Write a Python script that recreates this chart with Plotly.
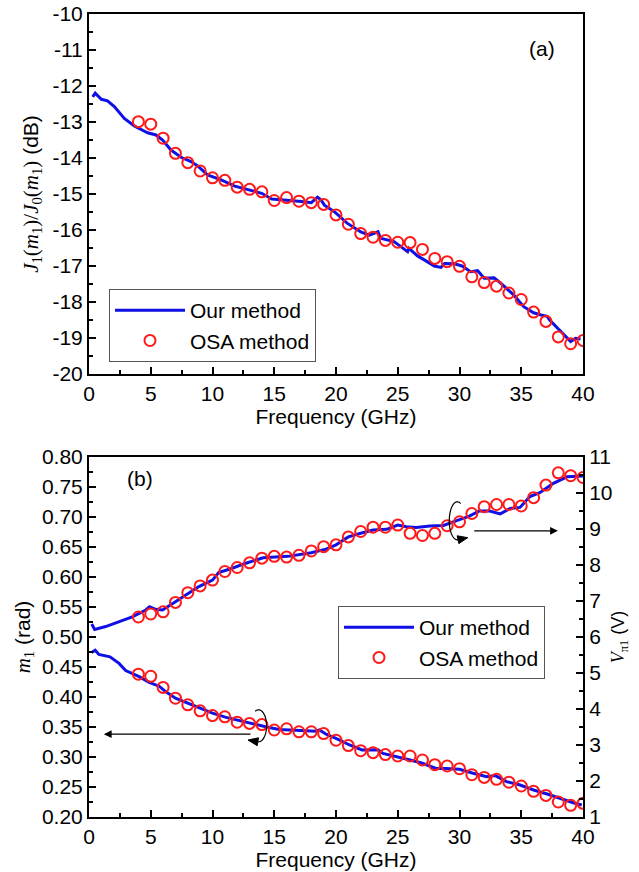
import numpy as np
import plotly.graph_objects as go

# ---------------- data ----------------
# (a) J1(m1)/J0(m1) in dB
a_line_f = [0.3, 0.5, 1.0, 1.5, 2.05, 2.86, 3.67, 4.75, 5.42, 5.96, 6.64, 7.45, 8.26, 8.8, 9.6, 10.7,
            11.8, 12.9, 13.98, 14.8, 16.1, 17.2, 18.0, 18.5, 18.8, 19.06, 19.87, 20.9, 22.0, 22.7, 23.4,
            23.6, 24.7, 25.5, 25.8, 25.9, 26.6, 27.15, 27.96, 28.5, 28.8, 29.6, 30.2, 30.9, 31.47,
            32.0, 32.8, 33.36, 34.4, 35.2, 36.0, 36.6, 37.1, 37.3, 37.95, 38.6, 39.0, 39.4, 39.8]
a_line_v = [-12.3, -12.2, -12.37, -12.41, -12.57, -12.90, -13.11, -13.30, -13.36, -13.5, -13.78, -13.98,
            -14.10, -14.22, -14.47, -14.61, -14.78, -14.89, -14.98, -15.14, -15.17, -15.21, -15.24,
            -15.09, -15.17, -15.31, -15.49, -15.81, -16.05, -16.14, -16.05, -16.23, -16.32, -16.51,
            -16.6, -16.51, -16.72, -16.83, -17.0, -17.04, -16.93, -16.94, -17.0, -17.16, -17.13,
            -17.34, -17.33, -17.48, -17.81, -18.13, -18.30, -18.36, -18.4, -18.5, -18.73, -18.96,
            -19.1, -19.01, -19.03]
a_osa_f = list(range(4, 41))
a_osa_v = [-12.99, -13.06, -13.45, -13.87, -14.13, -14.36, -14.55, -14.62, -14.81, -14.87, -14.94,
           -15.18, -15.10, -15.20, -15.24, -15.29, -15.58, -15.84, -16.10, -16.20, -16.29, -16.34,
           -16.35, -16.54, -16.79, -16.88, -17.01, -17.30, -17.46, -17.56, -17.75, -17.93, -18.28,
           -18.54, -18.97, -19.16, -19.07]

# (b) m1 (rad), left axis
m1_line_f = [0.22, 0.5, 0.8, 1.35, 1.7, 2.43, 2.97, 4.06, 4.87, 5.68, 6.2, 7.0, 8.1, 8.9, 10.0, 11.1,
             12.2, 13.2, 14.3, 15.4, 17.0, 18.4, 18.66, 19.2, 20.0, 21.1, 22.1, 23.4, 23.8, 25.0,
             26.0, 27.0, 28.1, 28.9, 30.0, 31.1, 32.2, 32.9, 33.8, 34.9, 36.0, 37.1, 38.1, 39.2, 39.9]
m1_line_v = [0.474, 0.478, 0.471, 0.468, 0.467, 0.456, 0.444, 0.434, 0.4245, 0.418, 0.409, 0.398,
             0.389, 0.383, 0.373, 0.366, 0.3605, 0.356, 0.3505, 0.346, 0.345, 0.343, 0.345, 0.338,
             0.331, 0.32, 0.3117, 0.312, 0.306, 0.3005, 0.295, 0.2895, 0.281, 0.281, 0.2795, 0.273,
             0.2672, 0.269, 0.259, 0.2533, 0.245, 0.2383, 0.2312, 0.2238, 0.22]
m1_osa_f = list(range(4, 41))
m1_osa_v = [0.438, 0.4345, 0.416, 0.398, 0.387, 0.377, 0.369, 0.367, 0.358, 0.356, 0.354, 0.345,
            0.347, 0.342, 0.342, 0.339, 0.328, 0.319, 0.3105, 0.3072, 0.304, 0.3017, 0.3017, 0.295,
            0.2872, 0.285, 0.2805, 0.2705, 0.266, 0.2628, 0.258, 0.2517, 0.2428, 0.236, 0.225,
            0.2195, 0.2228]

# (b) V_pi1 (V), right axis
vp_line_f = [0.22, 0.46, 1.35, 2.43, 3.5, 4.6, 4.9, 5.4, 5.95, 7.0, 8.1, 8.9, 10.0, 10.5, 11.6, 12.7,
             14.1, 16.1, 18.0, 18.66, 19.2, 20.0, 21.0, 22.0, 23.0, 24.1, 25.0, 25.7, 26.5, 27.6,
             28.7, 30.0, 30.8, 31.6, 32.45, 33.3, 34.1, 34.9, 35.7, 36.5, 37.6, 38.7, 40.0]
vp_line_v = [6.36, 6.21, 6.29, 6.43, 6.56, 6.75, 6.84, 6.77, 6.75, 6.98, 7.21, 7.40, 7.58, 7.79, 7.91,
             8.05, 8.20, 8.24, 8.34, 8.40, 8.44, 8.56, 8.78, 8.88, 8.97, 8.99, 9.11, 9.06, 9.04, 9.08,
             9.10, 9.26, 9.36, 9.50, 9.50, 9.42, 9.57, 9.60, 9.90, 10.01, 10.27, 10.45, 10.47]
vp_osa_f = list(range(4, 41))
vp_osa_v = [6.556, 6.64, 6.70, 6.96, 7.23, 7.42, 7.58, 7.82, 7.93, 8.06, 8.19, 8.24, 8.22, 8.27, 8.39,
            8.51, 8.56, 8.78, 8.93, 9.05, 9.05, 9.11, 8.88, 8.82, 8.88, 9.09, 9.20, 9.43, 9.62, 9.68,
            9.68, 9.64, 9.87, 10.22, 10.56, 10.48, 10.43]

x_ticks = [0, 5, 10, 15, 20, 25, 30, 35, 40]
a_y_ticks = [-20, -19, -18, -17, -16, -15, -14, -13, -12, -11, -10]
a_y_ticktext = ["-20", "-19", "-18", "-17", "-16", "-15", "-14", "-13", "-12", "-11", "-10"]

# ---------------- styling ----------------
FONT = "Arial, 'Liberation Sans', sans-serif"
SERIF = "Times New Roman, Liberation Serif, serif"
BLUE = "#1010e6"
RED = "#ff1a1a"
FS = 21

W, H = 639, 872
PL, PR, PT, PB = 89, 583, 14, 817   # plot area in window pixels
ML, MR, MT, MB = PL, W - PR, PT, H - PB
PLOT_H = H - MT - MB

fig = go.Figure()

line_style = dict(color=BLUE, width=3)
mk_style = dict(symbol="circle-open", size=11, color=RED, line=dict(color=RED, width=2))

fig.add_trace(go.Scatter(x=a_line_f, y=a_line_v, mode="lines", line=line_style, name="Our method",
                         xaxis="x", yaxis="y", legend="legend"))
fig.add_trace(go.Scatter(x=a_osa_f, y=a_osa_v, mode="markers", marker=mk_style, name="OSA method",
                         xaxis="x", yaxis="y", legend="legend"))

fig.add_trace(go.Scatter(x=m1_line_f, y=m1_line_v, mode="lines", line=line_style, name="Our method",
                         xaxis="x2", yaxis="y2", legend="legend2"))
fig.add_trace(go.Scatter(x=m1_osa_f, y=m1_osa_v, mode="markers", marker=mk_style, name="OSA method",
                         xaxis="x2", yaxis="y2", legend="legend2"))
fig.add_trace(go.Scatter(x=vp_line_f, y=vp_line_v, mode="lines", line=line_style, name="Our method",
                         xaxis="x2", yaxis="y3", showlegend=False))
fig.add_trace(go.Scatter(x=vp_osa_f, y=vp_osa_v, mode="markers", marker=mk_style, name="OSA method",
                         xaxis="x2", yaxis="y3", showlegend=False))

axis_common = dict(showline=True, linecolor="black", linewidth=2, ticks="inside", ticklen=7,
                   tickwidth=1.5, tickcolor="black", showgrid=False, zeroline=False, automargin=False,
                   tickfont=dict(family=FONT, size=FS, color="black"))

xcommon = dict(axis_common, range=[0, 40], tickvals=x_ticks, mirror=True,
               minor=dict(ticks="inside", ticklen=4, tickwidth=1.5, tickcolor="black", dtick=2.5,
                          tick0=0, showgrid=False),
               title=dict(text="Frequency (GHz)", font=dict(family=FONT, size=FS, color="black"),
                          standoff=2))


def py(y):  # window pixel y -> paper fraction
    return (PB - y) / PLOT_H


def px(x):  # window pixel x -> paper fraction
    return (x - PL) / (PR - PL)


top_dom = [py(374), 1.0]
bot_dom = [0.0, py(457)]

ytitle_a = ("<span style=\"font-family:" + SERIF + "\"><i>J</i><sub>1</sub>(<i>m</i><sub>1</sub>)/"
            "<i>J</i><sub>0</sub>(<i>m</i><sub>1</sub>)</span> (dB)")
ytitle_b = "<span style=\"font-family:" + SERIF + "\"><i>m</i><sub>1</sub></span> (rad)"
ytitle_c = "<span style=\"font-family:" + SERIF + "\"><i>V</i><sub>π1</sub></span> (V)"

legend_common = dict(xanchor="left", yanchor="top", bgcolor="white", bordercolor="#555555",
                     borderwidth=1, font=dict(family=FONT, size=FS, color="black"), itemwidth=70)

fig.update_layout(
    template="none",
    width=W, height=H,
    margin=dict(l=ML, r=MR, t=MT, b=MB, autoexpand=False),
    paper_bgcolor="white", plot_bgcolor="white",
    font=dict(family=FONT, size=FS, color="black"),
    xaxis=dict(xcommon, domain=[0, 1], anchor="y"),
    yaxis=dict(axis_common, domain=top_dom, anchor="x", range=[-20, -10], tickvals=a_y_ticks,
               ticktext=a_y_ticktext, mirror=True,
               minor=dict(ticks="inside", ticklen=4, tickwidth=1.5, tickcolor="black", dtick=0.5,
                          showgrid=False),
               title=dict(text=ytitle_a, font=dict(family=FONT, size=FS, color="black"), standoff=8)),
    xaxis2=dict(xcommon, domain=[0, 1], anchor="y2"),
    yaxis2=dict(axis_common, domain=bot_dom, anchor="x2", range=[0.2, 0.8], dtick=0.05,
                tickformat=".2f", mirror=False,
                minor=dict(ticks="inside", ticklen=4, tickwidth=1.5, tickcolor="black", dtick=0.025,
                           showgrid=False),
                title=dict(text=ytitle_b, font=dict(family=FONT, size=FS, color="black"), standoff=6)),
    yaxis3=dict(axis_common, overlaying="y2", side="right", anchor="x2", range=[1, 11], dtick=1,
                minor=dict(ticks="inside", ticklen=4, tickwidth=1.5, tickcolor="black", dtick=0.5,
                           showgrid=False),
                title=dict(text=ytitle_c, font=dict(family=FONT, size=18, color="black"), standoff=0)),
    legend=dict(legend_common, x=px(109), y=py(289)),
    legend2=dict(legend_common, x=px(338), y=py(606)),
    showlegend=True,
)

fig.add_annotation(text="(a)", xref="paper", yref="paper", x=px(557), y=py(35),
                   showarrow=False, font=dict(family=FONT, size=FS, color="black"))
fig.add_annotation(text="(b)", xref="paper", yref="paper", x=px(125), y=py(478),
                   showarrow=False, font=dict(family=FONT, size=FS, color="black"))

# horizontal arrows (panel b, coordinates of x2 / y2)
fig.add_annotation(x=1.2, y=0.338, ax=13.2, ay=0.338, xref="x2", yref="y2", axref="x2", ayref="y2",
                   text="", showarrow=True, arrowhead=2, arrowsize=1.3, arrowwidth=1.2, arrowcolor="black")
fig.add_annotation(x=37.97, y=0.677, ax=31.07, ay=0.677, xref="x2", yref="y2", axref="x2", ayref="y2",
                   text="", showarrow=True, arrowhead=2, arrowsize=1.3, arrowwidth=1.2, arrowcolor="black")

# curved arrows around the pointed-at points
PX_X = (PR - PL) / 40.0      # px per GHz
PX_Y = (817 - 457) / 0.6     # px per rad


def curl(cx, cy, a_px, b_px, t0, t1):
    t = np.radians(np.linspace(t0, t1, 40))
    xs = cx + a_px * np.cos(t) / PX_X
    ys = cy + b_px * np.sin(t) / PX_Y
    path = "M " + " L ".join(f"{x:.4f},{y:.5f}" for x, y in zip(xs, ys))
    sgn = 1 if t1 > t0 else -1
    te = t[-1]
    dx = -a_px * np.sin(te) * sgn
    dy = b_px * np.cos(te) * sgn
    n = np.hypot(dx, dy)
    ux, uy = dx / n, dy / n
    qx, qy = -uy, ux
    L, Wd = 10, 4
    ex, ey = xs[-1], ys[-1]
    tip = (ex + ux * L / PX_X, ey + uy * L / PX_Y)
    b1 = (ex + qx * Wd / PX_X, ey + qy * Wd / PX_Y)
    b2 = (ex - qx * Wd / PX_X, ey - qy * Wd / PX_Y)
    head = f"M {b1[0]:.4f},{b1[1]:.5f} L {tip[0]:.4f},{tip[1]:.5f} L {b2[0]:.4f},{b2[1]:.5f} Z"
    return path, head


for cx, cy, b_px, t0, t1 in [(13.73, 0.352, 16, 115, -95), (29.82, 0.6937, 19, 65, 275)]:
    p, h = curl(cx, cy, 8, b_px, t0, t1)
    fig.add_shape(type="path", path=p, xref="x2", yref="y2", line=dict(color="black", width=1.2))
    fig.add_shape(type="path", path=h, xref="x2", yref="y2", line=dict(color="black", width=1),
                  fillcolor="black")

# remove the default 8px page margin so the figure fills the window exactly
fig.write_html("out.html", config={"displayModeBar": False},
               post_script="document.body.style.margin='0';document.body.style.padding='0';")
